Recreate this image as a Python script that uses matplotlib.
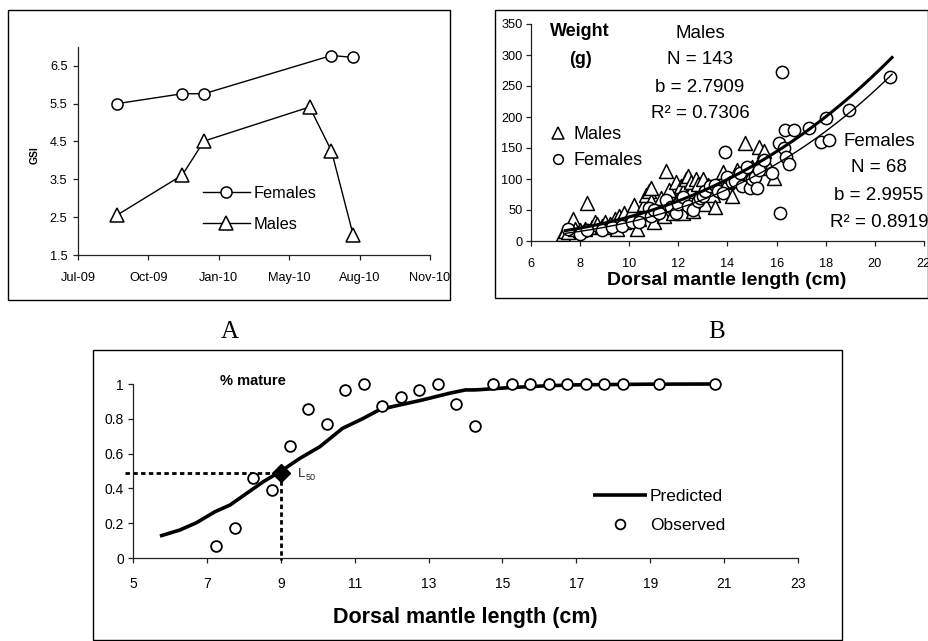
import numpy as np
import matplotlib
matplotlib.use('Agg')
import matplotlib.pyplot as plt
import matplotlib.dates as mdates
from matplotlib.lines import Line2D
from matplotlib.patches import Rectangle
import datetime as dt

plt.rcParams['font.family'] = ['Liberation Sans', 'DejaVu Sans']

# ---------------- Data ----------------
# Panel A: GSI over time
gsi_dates_f = ['2009-08-31', '2009-12-01', '2010-01-01', '2010-07-01', '2010-08-01']
gsi_f = [5.5, 5.76, 5.76, 6.77, 6.72]
gsi_dates_m = ['2009-08-31', '2009-12-01', '2010-01-01', '2010-05-31', '2010-07-01', '2010-08-01']
gsi_m = [2.56, 3.61, 4.51, 5.41, 4.25, 2.02]
gsi_xticks = ['2009-07-06', '2009-10-14', '2010-01-22', '2010-05-02', '2010-08-10', '2010-11-18']
gsi_yticks = [1.5, 2.5, 3.5, 4.5, 5.5, 6.5]

# Panel B: weight vs dorsal mantle length
male_len = [7.3, 7.4, 7.5, 7.7, 7.8, 8.0, 8.2, 8.3, 8.5, 8.6, 8.7, 8.9, 9.0, 9.1, 9.2,
            9.4, 9.5, 9.6, 9.8, 9.8, 10.0, 10.1, 10.2, 10.3, 10.4, 10.5, 10.6, 10.7,
            10.8, 10.9, 10.9, 11.0, 11.1, 11.2, 11.3, 11.4, 11.5, 11.6, 11.7, 11.8,
            11.9, 12.0, 12.0, 12.1, 12.2, 12.2, 12.3, 12.4, 12.5, 12.5, 12.6, 12.7,
            12.8, 12.8, 12.9, 13.0, 13.1, 13.2, 13.3, 13.4, 13.5, 13.7, 13.8, 14.0,
            14.2, 14.3, 14.4, 14.7, 14.9, 15.0, 15.3, 15.4, 15.5, 15.7, 15.9]
male_wt = [12, 16, 14, 36, 20, 18, 20, 62, 22, 30, 28, 25, 30, 22, 27,
           35, 20, 40, 30, 45, 36, 50, 58, 20, 35, 45, 60, 75,
           80, 65, 85, 30, 48, 55, 70, 40, 113, 82, 60, 45,
           95, 70, 55, 88, 45, 80, 100, 105, 80, 95, 48, 100,
           92, 70, 75, 100, 60, 90, 85, 75, 55, 100, 112, 95,
           72, 105, 115, 158, 110, 120, 152, 136, 145, 118, 101]
female_len = [7.5, 8.0, 8.3, 8.9, 9.3, 9.7, 10.1, 10.4, 10.8, 10.9, 11.0, 11.2, 11.5,
              11.7, 11.9, 12.0, 12.2, 12.4, 12.6, 12.8, 12.9, 13.0, 13.1, 13.3, 13.5,
              13.6, 13.8, 13.9, 14.0, 14.2, 14.3, 14.5, 14.6, 14.8, 14.9, 15.0, 15.1,
              15.2, 15.3, 15.5, 15.8, 16.1, 16.2, 16.15, 16.3, 16.35, 16.4, 16.5, 16.7,
              17.3, 17.8, 18.0, 18.15, 18.95, 20.62]
female_wt = [19, 12, 18, 17, 22, 24, 30, 30, 53, 40, 50, 45, 66,
             55, 45, 60, 71, 57, 50, 65, 70, 72, 80, 88, 90,
             80, 77, 144, 104, 95, 96, 109, 88, 120, 85, 100, 104,
             85, 115, 130, 109, 158, 273, 45, 150, 179, 136, 125, 179,
             182, 160, 198, 163, 212, 265]
# power-law trend lines W = a * L^b
a_male, b_male = 0.0629, 2.7909
a_female, b_female = 0.03075, 2.9955
fit_range = [7.4, 20.7]

# Panel C: maturity ogive
obs_len = [7.25, 7.75, 8.25, 8.75, 9.25, 9.75, 10.25, 10.75, 11.25, 11.75, 12.25, 12.75,
           13.25, 13.75, 14.25, 14.75, 15.25, 15.75, 16.25, 16.75, 17.25, 17.75, 18.25,
           19.25, 20.75]
obs_mature = [0.068, 0.17, 0.458, 0.39, 0.643, 0.858, 0.768, 0.964, 1.0, 0.874, 0.927,
              0.964, 1.0, 0.885, 0.757, 1.0, 1.0, 1.0, 1.0, 1.0, 1.0, 1.0, 1.0, 1.0, 1.0]
pred_len = [5.73, 6.27, 6.72, 7.22, 7.63, 8.08, 8.53, 8.98, 9.52, 10.06, 10.67, 11.21,
            11.66, 12.02, 12.83, 13.55, 14.0, 14.27, 15.17, 15.75, 16.2, 17.0, 18.0,
            19.0, 20.71]
pred_mature = [0.126, 0.161, 0.203, 0.266, 0.305, 0.372, 0.439, 0.496, 0.573, 0.64,
               0.745, 0.80, 0.851, 0.87, 0.908, 0.946, 0.966, 0.966, 0.979, 0.985,
               0.99, 0.995, 0.997, 0.999, 1.0]
l50_len, l50_val = 9.0, 0.49

# ---------------- Figure ----------------
W, H = 929, 641
fig = plt.figure(figsize=(W / 100, H / 100), dpi=100)


def add_axes_px(x0, x1, ytop, ybot):
    return fig.add_axes([x0 / W, 1 - ybot / H, (x1 - x0) / W, (ybot - ytop) / H])


def ftext(x, y, s, **kw):
    return fig.text(x / W, 1 - y / H, s, **kw)


def frame(x0, y0, x1, y1):
    fig.add_artist(Rectangle((x0 / W, 1 - y1 / H), (x1 - x0) / W, (y1 - y0) / H,
                             transform=fig.transFigure, fill=False, lw=1.0,
                             edgecolor='black'))


def style(ax, xpad, ypad, fs):
    for s in ['top', 'right']:
        ax.spines[s].set_visible(False)
    for s in ['left', 'bottom']:
        ax.spines[s].set_linewidth(0.9)
        ax.spines[s].set_color('#222222')
    ax.tick_params(axis='x', direction='out', length=3.5, width=0.9, pad=xpad,
                   labelsize=fs, color='#222222')
    ax.tick_params(axis='y', direction='out', length=3.5, width=0.9, pad=ypad,
                   labelsize=fs, color='#222222')
    ax.patch.set_visible(False)


frame(8, 10, 450, 300)
frame(495, 10, 928, 298)
frame(93, 350, 842, 640)

# ---- Panel A ----
axA = add_axes_px(78, 430, 46.8, 255)
dF = [dt.datetime.strptime(d, '%Y-%m-%d') for d in gsi_dates_f]
dM = [dt.datetime.strptime(d, '%Y-%m-%d') for d in gsi_dates_m]
dT = [dt.datetime.strptime(d, '%Y-%m-%d') for d in gsi_xticks]
lf, = axA.plot(dF, gsi_f, '-', color='black', lw=1.0, marker='o', ms=8,
               mfc='white', mec='black', mew=1.1, label='Females', clip_on=False)
lm, = axA.plot(dM, gsi_m, '-', color='black', lw=1.0, marker='^', ms=9.5,
               mfc='white', mec='black', mew=1.1, label='Males', clip_on=False)
axA.set_xlim(dT[0], dT[-1])
axA.set_ylim(1.5, 7.0)
axA.set_xticks(dT)
axA.xaxis.set_major_formatter(mdates.DateFormatter('%b-%y'))
axA.set_yticks(gsi_yticks)
axA.set_yticklabels([f'{v:.1f}' for v in gsi_yticks])
style(axA, 9, 4, 9.2)
axA.legend(handles=[lf, lm], loc='upper left', bbox_to_anchor=(203 / W, 1 - 186 / H),
           bbox_transform=fig.transFigure, frameon=False, fontsize=11.8,
           borderpad=0, borderaxespad=0, handlelength=2.85, handletextpad=0.25,
           labelspacing=0.95)
ftext(35, 155, 'GSI', rotation=90, fontsize=7.5, fontweight='bold', ha='center', va='center')

# ---- Panel B ----
axB = add_axes_px(531, 924, 24, 241)
axB.scatter(male_len, male_wt, marker='^', s=100, facecolors='white', edgecolors='black',
            linewidths=1.1, zorder=3)
axB.scatter(female_len, female_wt, marker='o', s=78, facecolors='white', edgecolors='black',
            linewidths=1.1, zorder=4)
xf = np.linspace(fit_range[0], fit_range[1], 200)
axB.plot(xf, a_male * xf ** b_male, color='black', lw=2.2, zorder=5)
axB.plot(xf, a_female * xf ** b_female, color='black', lw=1.0, zorder=5)
axB.set_xlim(6, 22)
axB.set_ylim(0, 350)
axB.set_xticks(np.arange(6, 23, 2))
axB.set_yticks(np.arange(0, 351, 50))
style(axB, 9, 2.5, 9.2)
for t in axB.get_xticklabels():
    t.set_clip_on(False)
hm = Line2D([], [], ls='none', marker='^', ms=9, mfc='white', mec='black', mew=1.1)
hf = Line2D([], [], ls='none', marker='o', ms=7, mfc='white', mec='black', mew=1.1)
axB.legend(handles=[hm, hf], labels=['Males', 'Females'], loc='upper left',
           bbox_to_anchor=(549 / W, 1 - 126 / H), bbox_transform=fig.transFigure,
           frameon=False, fontsize=13, borderpad=0, borderaxespad=0, handlelength=1.0,
           handletextpad=0.35, labelspacing=0.5)
ftext(580, 31, 'Weight', fontsize=13, fontweight='bold', ha='center', va='center')
ftext(580, 60, '(g)', fontsize=13, fontweight='bold', ha='center', va='center')
for y, s in zip([33, 60, 87, 114], ['Males', 'N = 143', 'b = 2.7909', 'R² = 0.7306']):
    ftext(700, y, s, fontsize=13.5, ha='center', va='center')
for y, s in zip([142, 168, 196, 222], ['Females', 'N = 68', 'b = 2.9955', 'R² = 0.8919']):
    ftext(879, y, s, fontsize=13.5, ha='center', va='center')
ftext(727, 280, 'Dorsal mantle length (cm)', fontsize=14, fontweight='bold',
      ha='center', va='center')

# ---- Panel labels ----
ftext(230, 332, 'A', fontsize=18, family='Liberation Serif', ha='center', va='center')
ftext(717, 332, 'B', fontsize=18, family='Liberation Serif', ha='center', va='center')

# ---- Panel C ----
axC = add_axes_px(133, 798, 384, 558)
axC.plot([4.78, l50_len], [l50_val, l50_val], color='black', lw=2.0,
         ls=(0, (1.6, 1.2)), clip_on=False, zorder=2, solid_capstyle='butt')
axC.plot([l50_len, l50_len], [l50_val, -0.01], color='black', lw=2.0,
         ls=(0, (1.6, 1.2)), clip_on=False, zorder=2)
lp, = axC.plot(pred_len, pred_mature, color='black', lw=2.6, clip_on=False, zorder=3,
               solid_capstyle='butt', label='Predicted')
lo = axC.scatter(obs_len, obs_mature, marker='o', s=60, facecolors='white',
                 edgecolors='black', linewidths=1.3, clip_on=False, zorder=4,
                 label='Observed')
axC.plot([l50_len], [l50_val], marker='D', ms=9, color='black', ls='none',
         clip_on=False, zorder=5)
axC.set_xlim(5, 23)
axC.set_ylim(0, 1)
axC.set_xticks(np.arange(5, 24, 2))
axC.set_yticks([0, 0.2, 0.4, 0.6, 0.8, 1.0])
axC.set_yticklabels(['0', '0.2', '0.4', '0.6', '0.8', '1'])
style(axC, 10, 3, 10)
ho = Line2D([], [], ls='none', marker='o', ms=7, mfc='white', mec='black', mew=1.3)
axC.legend(handles=[lp, ho], labels=['Predicted', 'Observed'], loc='upper left',
           bbox_to_anchor=(593 / W, 1 - 489 / H), bbox_transform=fig.transFigure,
           frameon=False, fontsize=12.5, borderpad=0, borderaxespad=0,
           handlelength=3.1, handletextpad=0.17, labelspacing=0.8)
ftext(253, 381, '% mature', fontsize=10.5, fontweight='bold', ha='center', va='center')
ftext(298, 474, 'L', fontsize=9.5, ha='left', va='center', color='#222222')
ftext(305.5, 477.5, '50', fontsize=6.5, ha='left', va='center', color='#222222')
ftext(465, 617, 'Dorsal mantle length (cm)', fontsize=15.5, fontweight='bold',
      ha='center', va='center')

fig.savefig('out.png', dpi=100)
